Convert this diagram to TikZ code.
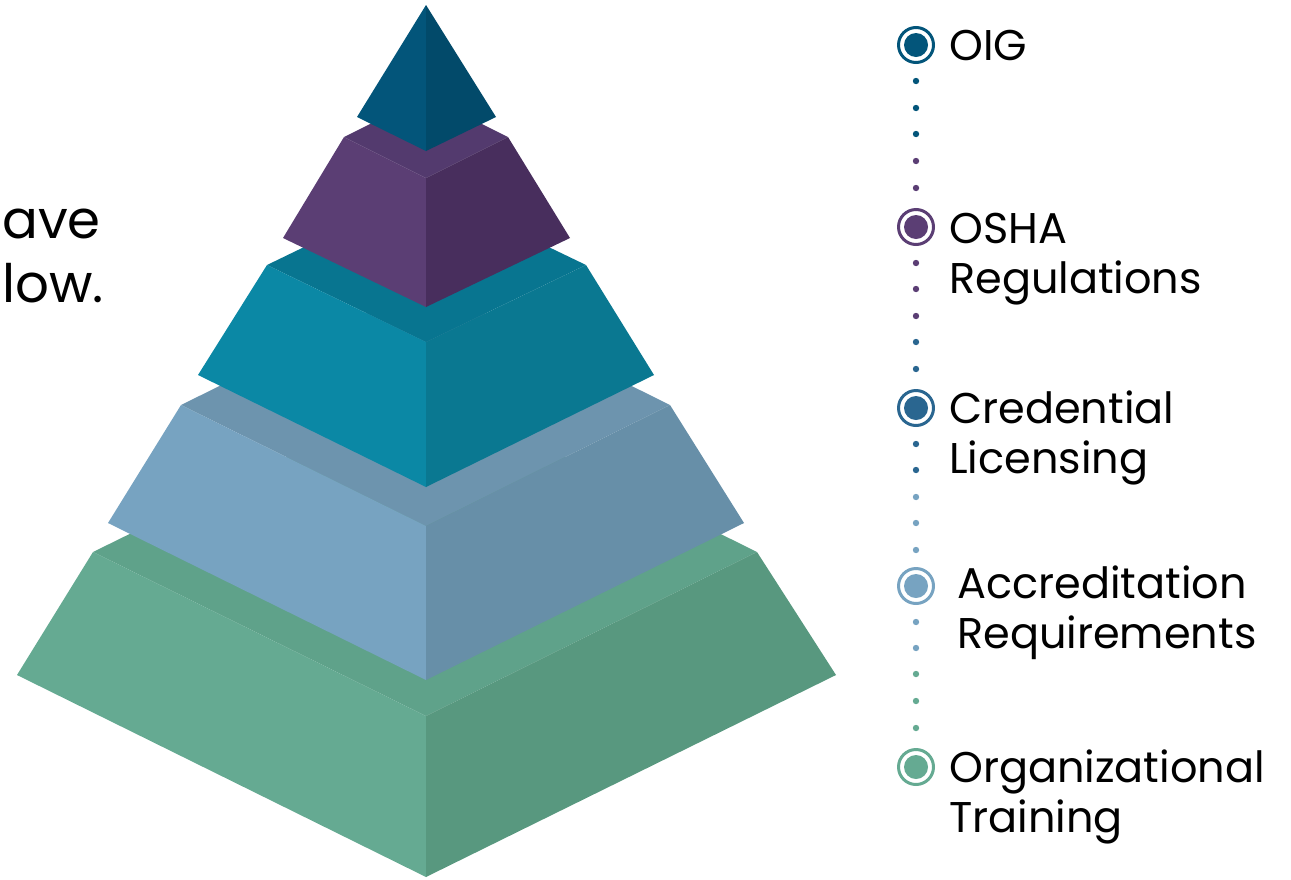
\documentclass[tikz,border=0pt]{standalone}
\usepackage{fontspec}
\setmainfont{Poppins}
\definecolor{tL}{HTML}{03557A}
\definecolor{tR}{HTML}{024A6A}
\definecolor{pT}{HTML}{533A6E}
\definecolor{pL}{HTML}{5B3E74}
\definecolor{pR}{HTML}{482E5D}
\definecolor{qT}{HTML}{087590}
\definecolor{qL}{HTML}{0B88A5}
\definecolor{qR}{HTML}{0A7891}
\definecolor{bT}{HTML}{6D94AE}
\definecolor{bL}{HTML}{77A3C1}
\definecolor{bR}{HTML}{678FA8}
\definecolor{gT}{HTML}{5FA28A}
\definecolor{gL}{HTML}{65AA92}
\definecolor{gR}{HTML}{58987F}
\definecolor{cOIG}{HTML}{03557A}
\definecolor{cOSHA}{HTML}{5B3E74}
\definecolor{cCred}{HTML}{2A6690}
\definecolor{cAcc}{HTML}{77A3C1}
\definecolor{cOrg}{HTML}{65AA92}
\begin{document}
\begin{tikzpicture}[x=1pt,y=-1pt,
  ring/.style={circle, draw=#1, line width=3pt, minimum size=35pt, inner sep=0pt, fill=white},
  lbl/.style={anchor=base west, inner sep=0pt, font=\fontsize{43}{50}\selectfont, text=black},
  big/.style={anchor=base west, inner sep=0pt, font=\fontsize{53}{64}\selectfont, text=black}]
\useasboundingbox (0,0) rectangle (1291,879);
% green layer
\fill[gT] (93,552) -- (426,388) -- (757,552) -- (426,716) -- cycle;
\fill[gL] (93,552) -- (426,716) -- (426,877) -- (17,675) -- cycle;
\fill[gR] (426,716) -- (757,552) -- (836,675) -- (426,877) -- cycle;
% light blue layer
\fill[bT] (181,405) -- (426,284) -- (670,405) -- (426,526) -- cycle;
\fill[bL] (181,405) -- (426,526) -- (426,680) -- (108,523) -- cycle;
\fill[bR] (426,526) -- (670,405) -- (744,523) -- (426,680) -- cycle;
% teal layer
\fill[qT] (267,265) -- (426,188) -- (586,265) -- (426,342) -- cycle;
\fill[qL] (267,265) -- (426,342) -- (426,487) -- (198,375) -- cycle;
\fill[qR] (426,342) -- (586,265) -- (654,375) -- (426,487) -- cycle;
% purple layer
\fill[pT] (344,137) -- (426,96) -- (508,137) -- (426,178) -- cycle;
\fill[pL] (344,137) -- (426,178) -- (426,307) -- (283,238) -- cycle;
\fill[pR] (426,178) -- (508,137) -- (570,238) -- (426,307) -- cycle;
% top tetrahedron
\fill[tL] (426,5) -- (426,151) -- (357,117) -- cycle;
\fill[tR] (426,5) -- (496,117) -- (426,151) -- cycle;
% left text fragments
\node[big] (t1) at (2,238) {ave};
\node[big] (t2) at (2,302) {low.};
% legend
\node[ring=cOIG] (c1) at (916,45) {};
\fill[cOIG] (c1.center) circle (12);
\node[ring=cOSHA] (c2) at (916,227) {};
\fill[cOSHA] (c2.center) circle (12);
\node[ring=cCred] (c3) at (916,408) {};
\fill[cCred] (c3.center) circle (12);
\node[ring=cAcc] (c4) at (916,586) {};
\fill[cAcc] (c4.center) circle (12);
\node[ring=cOrg] (c5) at (916,767) {};
\fill[cOrg] (c5.center) circle (12);
\foreach \y in {81,108,134} \fill[cOIG] (916,\y) circle (3.2);
\foreach \y in {161,188,263,289,316} \fill[cOSHA] (916,\y) circle (3.2);
\foreach \y in {342,369,444,470} \fill[cCred] (916,\y) circle (3.2);
\foreach \y in {497,523,550,622,648} \fill[cAcc] (916,\y) circle (3.2);
\foreach \y in {674,701,728} \fill[cOrg] (916,\y) circle (3.2);
\node[lbl] (l1) at (949,60) {OIG};
\node[lbl] (l2a) at (949,243) {OSHA};
\node[lbl] (l2b) at (949,293) {Regulations};
\node[lbl] (l3a) at (949,423) {Credential};
\node[lbl] (l3b) at (949,473) {Licensing};
\node[lbl] (l4a) at (957,598) {Accreditation};
\node[lbl] (l4b) at (957,648) {Requirements};
\node[lbl] (l5a) at (949,782) {Organizational};
\node[lbl] (l5b) at (949,832) {Training};
\end{tikzpicture}
\end{document}
